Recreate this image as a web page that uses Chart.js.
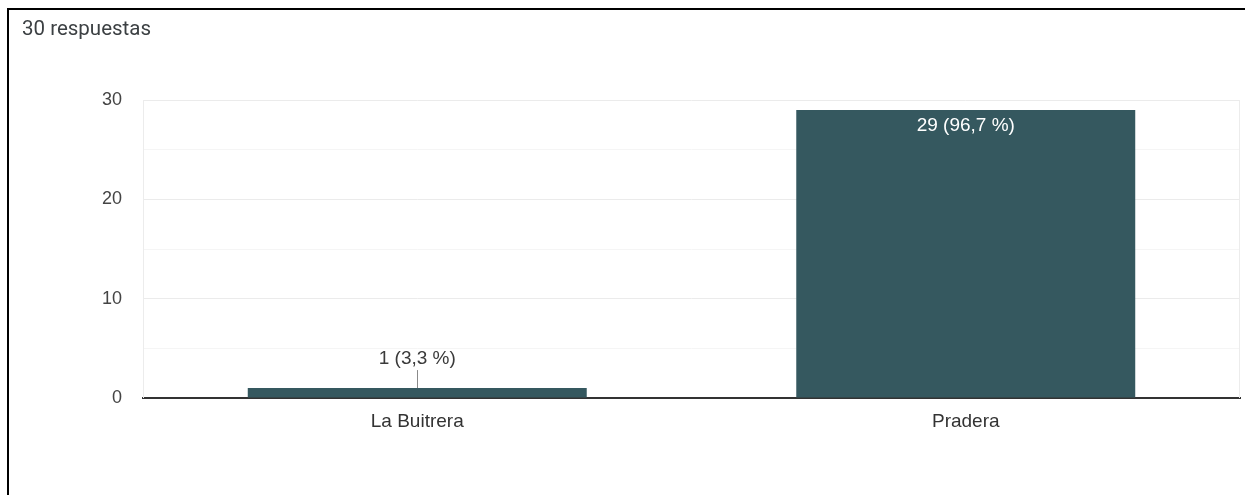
<!DOCTYPE html>
<html>
<head>
<meta charset="utf-8">
<script src="https://cdn.jsdelivr.net/npm/chart.js@4"></script>
<style>
  html, body { margin: 0; padding: 0; background: #fff; }
  #wrap { position: relative; width: 1245px; height: 495px; overflow: hidden; }
  #frame { position: absolute; left: 7px; top: 8px; width: 1300px; height: 600px;
           border-left: 2px solid #000; border-top: 2px solid #000; box-sizing: border-box; }
  #title { position: absolute; left: 22px; top: 16px; font-family: Roboto, sans-serif;
           font-size: 20.5px; color: #3c4043; }
  #c { position: absolute; left: 0; top: 0; }
</style>
</head>
<body>
<div id="wrap">
  <canvas id="c" width="1245" height="495"></canvas>
  <div id="frame"></div>
  <div id="title">30 respuestas</div>
</div>
<script>
const categories = ["La Buitrera", "Pradera"];
const counts = [1, 29];
const totalResponses = 30;
const yTicks = [0, 10, 20, 30];

const pctLabel = (v) => v + " (" + (v / totalResponses * 100).toFixed(1).replace(".", ",") + " %)";

const decor = {
  id: "decor",
  beforeDatasetsDraw(chart) {
    const { ctx, chartArea: a } = chart;
    ctx.save();
    ctx.strokeStyle = "#ececec";
    ctx.lineWidth = 1;
    ctx.beginPath();
    ctx.moveTo(a.left + 0.5, a.top);
    ctx.lineTo(a.left + 0.5, a.bottom);
    ctx.moveTo(a.right - 0.5, a.top);
    ctx.lineTo(a.right - 0.5, a.bottom);
    ctx.stroke();
    ctx.restore();
  },
  afterDatasetsDraw(chart) {
    const { ctx } = chart;
    const meta = chart.getDatasetMeta(0);
    ctx.save();
    ctx.font = "19px 'Liberation Sans', Arial, sans-serif";
    ctx.textAlign = "center";
    ctx.textBaseline = "middle";
    meta.data.forEach((bar, i) => {
      const v = counts[i];
      const txt = pctLabel(v);
      const h = bar.base - bar.y;
      if (h > 40) {
        ctx.fillStyle = "#ffffff";
        ctx.fillText(txt, bar.x, bar.y + 16);
      } else {
        ctx.fillStyle = "#3a3a3a";
        ctx.fillText(txt, bar.x, bar.y - 29);
        ctx.strokeStyle = "#8a8a8a";
        ctx.lineWidth = 1;
        ctx.beginPath();
        ctx.moveTo(Math.round(bar.x) + 0.5, bar.y - 18);
        ctx.lineTo(Math.round(bar.x) + 0.5, bar.y);
        ctx.stroke();
      }
    });
    ctx.restore();
  }
};

new Chart(document.getElementById("c"), {
  type: "bar",
  data: {
    labels: categories,
    datasets: [{
      data: counts,
      backgroundColor: "#35585f",
      borderWidth: 0,
      barPercentage: 0.618,
      categoryPercentage: 1.0
    }]
  },
  options: {
    responsive: false,
    animation: false,
    events: [],
    layout: { padding: { top: 100, right: 5, left: 0, bottom: 0 } },
    plugins: { legend: { display: false }, tooltip: { enabled: false }, title: { display: false } },
    scales: {
      x: {
        grid: { display: false, drawTicks: false },
        border: { display: true, color: "#333333", width: 2 },
        ticks: { color: "#333333", font: { family: "'Liberation Sans', Arial, sans-serif", size: 19 }, padding: 12 },
        afterFit(scale) { scale.height = 97; }
      },
      y: {
        min: 0,
        max: 30,
        grid: {
          drawTicks: false,
          color: (c) => (c.tick && yTicks.includes(c.tick.value)) ? "#ebebeb" : "#f5f5f5",
          lineWidth: 1
        },
        border: { display: false },
        ticks: {
          stepSize: 5,
          padding: 21,
          color: "#444444",
          font: { family: "'Liberation Sans', Arial, sans-serif", size: 18 },
          callback: (v) => yTicks.includes(v) ? String(v) : ""
        },
        afterFit(scale) { scale.width = 143; }
      }
    }
  },
  plugins: [decor]
});
</script>
</body>
</html>
